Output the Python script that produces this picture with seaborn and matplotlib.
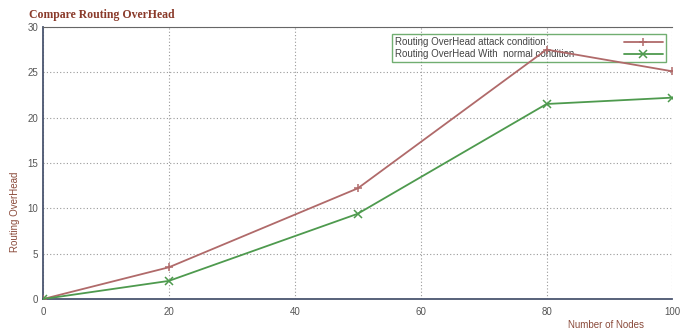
import matplotlib
matplotlib.use("Agg")
import matplotlib.pyplot as plt
import seaborn as sns
import pandas as pd

# values
nodes = [0, 20, 50, 80, 100]
attack = [0, 3.5, 12.2, 27.5, 25.1]
normal = [0, 2.0, 9.4, 21.5, 22.2]
labels = ["Routing OverHead attack condition", "Routing OverHead With  normal condition"]

df = pd.DataFrame({
    "nodes": nodes * 2,
    "overhead": attack + normal,
    "series": [labels[0]] * len(nodes) + [labels[1]] * len(nodes),
})

sns.set_style("white")
plt.rcParams["font.family"] = ["Liberation Sans", "DejaVu Sans"]

fig = plt.figure(figsize=(6.82, 3.36), dpi=100)
ax = fig.add_axes([0.063, 0.110, 0.923, 0.810])

palette = {labels[0]: "#b06a6a", labels[1]: "#4e9a4e"}
markers = {labels[0]: "+", labels[1]: "x"}
for name in labels:
    sub = df[df["series"] == name]
    sns.lineplot(data=sub, x="nodes", y="overhead", ax=ax, color=palette[name],
                 marker=markers[name], markersize=6, markeredgewidth=1.1,
                 markeredgecolor=palette[name], linewidth=1.3, label=name,
                 zorder=3)

ax.set_xlim(0, 100)
ax.set_ylim(0, 30)
ax.set_xticks([0, 20, 40, 60, 80, 100])
ax.set_yticks([0, 5, 10, 15, 20, 25, 30])
ax.grid(True, linestyle=(0, (1, 2)), color="#999999", linewidth=0.8)
ax.tick_params(labelsize=7, colors="#555555", length=0)
ax.tick_params(axis="x", pad=6)

for side in ["left", "bottom"]:
    ax.spines[side].set_color("#4a5570")
    ax.spines[side].set_linewidth(1.3)
ax.spines["top"].set_color("#666666")
ax.spines["right"].set_visible(False)

ax.set_xlabel("")
ax.set_ylabel("Routing OverHead", fontsize=7, color="#8a4a3a")
ax.yaxis.set_label_coords(-0.037, 0.32)
fig.text(0.888, 0.024, "Number of Nodes", fontsize=7, color="#8a4a3a", ha="center")
fig.text(0.043, 0.945, "Compare Routing OverHead", fontsize=8.5, color="#8a3a2a",
         family="Liberation Serif", weight="bold")

leg = ax.legend(loc="upper right", bbox_to_anchor=(0.997, 0.99), fontsize=7,
                frameon=True, fancybox=False, markerfirst=False, handlelength=4,
                borderpad=0.3, labelspacing=0.2, handletextpad=1)
leg.get_frame().set_edgecolor("#4e9a4e")
leg.get_frame().set_facecolor("none")
leg.get_frame().set_linewidth(1.0)
leg.set_zorder(2)
for t in leg.get_texts():
    t.set_color("#444444")
# text on the left, handle pushed to the right edge of the box
col = leg._legend_handle_box.get_children()[0]
col.width = 268
col.align = "left"
for row in col.get_children():
    row.mode = "expand"

fig.savefig("out.png", dpi=100)
